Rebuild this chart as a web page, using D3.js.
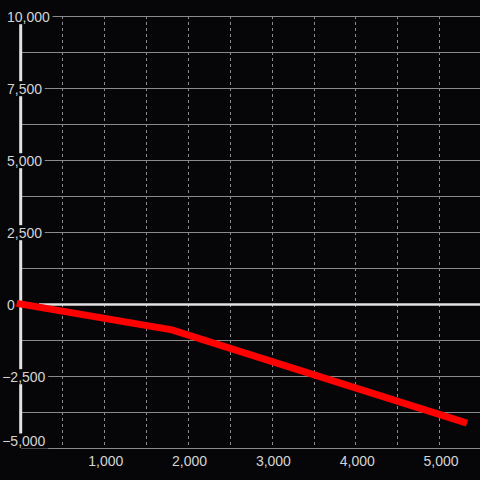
<!DOCTYPE html>
<html><head><meta charset="utf-8">
<script src="https://cdn.jsdelivr.net/npm/d3@7"></script>
<style>html,body{margin:0;padding:0;background:#060609;}svg{display:block;}</style>
</head><body>
<svg id="c" width="480" height="480"></svg>
<script>
// Data
const xValues = [0, 1810, 5290];
const yValues = [0, -900, -4100];
const xTickLabels = [1000, 2000, 3000, 4000, 5000];
const xGridValues = [500, 1000, 1500, 2000, 2500, 3000, 3500, 4000, 4500, 5000];
const yTickLabels = [-5000, -2500, 0, 2500, 5000, 7500, 10000];
const yGridValues = [-5000, -3750, -2500, -1250, 1250, 2500, 3750, 5000, 6250, 7500, 8750, 10000];

const W = 480, H = 480;
const bg = "#060609";
const svg = d3.select("#c");
svg.append("rect").attr("width", W).attr("height", H).attr("fill", bg);

const x = d3.scaleLinear().domain([0, 5500]).range([20.1, 481.2]);
const y = d3.scaleLinear().domain([-5000, 10000]).range([448, 16]);
const fmt = d3.format(",");
const font = "'Liberation Sans', Arial, sans-serif";

// vertical dashed grid
svg.append("g").selectAll("line").data(xGridValues).join("line")
  .attr("x1", d => Math.round(x(d)) + 0.5).attr("x2", d => Math.round(x(d)) + 0.5)
  .attr("y1", y(10000)).attr("y2", y(-5000))
  .attr("stroke", "#8a8a8a").attr("stroke-width", 1).attr("stroke-dasharray", "3,3");

// horizontal grid
svg.append("g").selectAll("line").data(yGridValues).join("line")
  .attr("x1", 21).attr("x2", W)
  .attr("y1", d => Math.round(y(d)) + 0.5).attr("y2", d => Math.round(y(d)) + 0.5)
  .attr("stroke", "#8a8a8a").attr("stroke-width", 1);

// y axis line
svg.append("line").attr("x1", x(0) + 0.6).attr("x2", x(0) + 0.6)
  .attr("y1", y(10000)).attr("y2", y(-5000))
  .attr("stroke", "#e2e2e2").attr("stroke-width", 3);

// zero line
svg.append("line").attr("x1", 39).attr("x2", W)
  .attr("y1", y(0) + 0.5).attr("y2", y(0) + 0.5)
  .attr("stroke", "#e2e2e2").attr("stroke-width", 2.5);

// y labels with background boxes
const yl = svg.append("g");
yTickLabels.forEach(v => {
  const cy = v === -5000 ? y(v) - 7 : y(v) + 0.7;
  const g = yl.append("g");
  const t = g.append("text")
    .attr("x", v < 0 ? 2.2 : 7)
    .attr("y", cy).attr("dy", "0.36em")
    .attr("font-family", font).attr("font-size", 14)
    .attr("fill", "#d4d4d4").text(fmt(v));
  const bb = t.node().getBBox();
  g.insert("rect", "text")
    .attr("x", bb.x - 2).attr("width", bb.width + 4.5)
    .attr("y", cy - 7.5).attr("height", 15)
    .attr("fill", bg);
});

// x labels
svg.append("g").selectAll("text").data(xTickLabels).join("text")
  .attr("x", d => x(d) + 1.8).attr("y", 466)
  .attr("text-anchor", "middle")
  .attr("font-family", font).attr("font-size", 14)
  .attr("fill", "#d4d4d4").text(d => fmt(d));

// red line
const pts = xValues.map((v, i) => [v, yValues[i]]);
svg.append("path").datum(pts)
  .attr("d", d3.line().x(d => x(d[0])).y(d => y(d[1])))
  .attr("fill", "none").attr("stroke", "#ff0000")
  .attr("stroke-width", 7).attr("stroke-linecap", "square").attr("stroke-linejoin", "miter");
</script>
</body></html>
